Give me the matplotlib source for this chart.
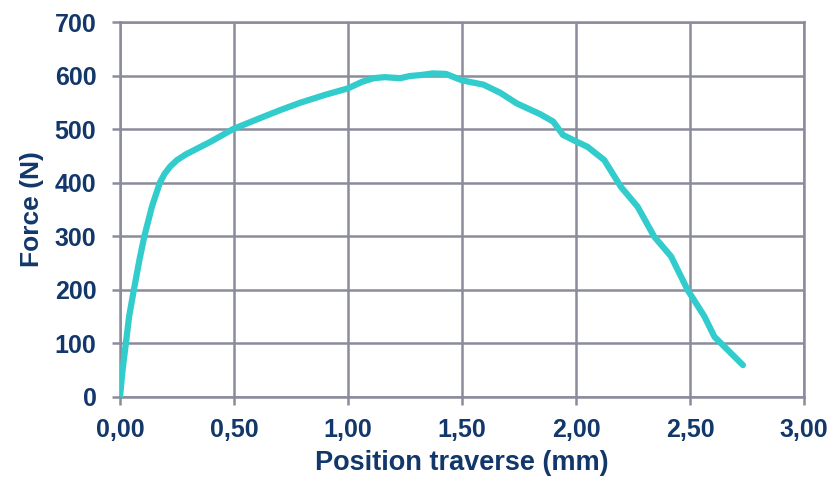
import matplotlib
matplotlib.use("Agg")
import matplotlib.pyplot as plt
from matplotlib.ticker import FuncFormatter, MultipleLocator

position_mm = [0, 0.01, 0.022, 0.026, 0.04, 0.061, 0.085, 0.107, 0.14, 0.175, 0.195,
               0.22, 0.25, 0.29, 0.336, 0.40, 0.496, 0.60, 0.70, 0.789, 0.90, 1.0, 1.06,
               1.112, 1.16, 1.229, 1.27, 1.32, 1.372, 1.43, 1.5, 1.594, 1.667, 1.74,
               1.842, 1.9, 1.943, 2.0, 2.05, 2.124, 2.197, 2.27, 2.343, 2.417, 2.49,
               2.563, 2.607, 2.732]
force_N = [0, 45, 87, 100, 150, 200, 255, 300, 355, 400, 416,
           430, 442, 453, 463, 477, 500, 518, 535, 549, 564, 576, 588,
           595, 597, 595, 599, 601, 604, 603, 591, 583, 568, 548,
           528, 514, 489, 477, 467, 442, 392, 355, 299, 262, 199,
           150, 112, 59]

text_color = "#12376a"
grid_color = "#8a8c9c"
line_color = "#33cccc"

plt.rcParams['font.family'] = ['Liberation Sans', 'DejaVu Sans']

fig = plt.figure(figsize=(8.35, 4.84), dpi=100)
ax = fig.add_axes([0.1437, 0.1804, 0.8192, 0.7741])

ax.plot(position_mm, force_N, color=line_color, lw=4.5, solid_capstyle='round',
        solid_joinstyle='round', zorder=3)

ax.set_xlim(0, 3.0)
ax.set_ylim(0, 700)
ax.xaxis.set_major_locator(MultipleLocator(0.5))
ax.yaxis.set_major_locator(MultipleLocator(100))
ax.xaxis.set_major_formatter(FuncFormatter(lambda v, p: f"{v:.2f}".replace('.', ',')))
ax.yaxis.set_major_formatter(FuncFormatter(lambda v, p: f"{int(round(v))}"))

ax.grid(True, color=grid_color, lw=1.8, zorder=1)
for s in ax.spines.values():
    s.set_color(grid_color)
    s.set_linewidth(1.8)
ax.tick_params(axis='both', colors=grid_color, width=1.8, length=6, direction='out',
               labelcolor=text_color, labelsize=18)
ax.tick_params(axis='y', pad=11)
ax.tick_params(axis='x', pad=9)
for lab in ax.get_xticklabels() + ax.get_yticklabels():
    lab.set_fontweight('bold')

ax.set_xlabel("Position traverse (mm)", fontsize=19.5, fontweight='bold', color=text_color,
              labelpad=6)
ax.set_ylabel("Force (N)", fontsize=19, fontweight='bold', color=text_color, labelpad=8)

fig.savefig("out.png", dpi=100)
